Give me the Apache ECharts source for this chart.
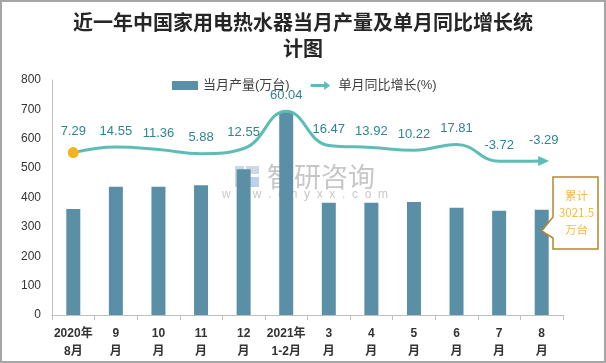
<!DOCTYPE html>
<html>
<head>
<meta charset="utf-8">
<script src="https://cdn.jsdelivr.net/npm/echarts@6/dist/echarts.min.js"></script>
<style>
html,body{margin:0;padding:0;background:#fff;}
#c{width:606px;height:363px;box-sizing:border-box;border:2px solid #a6a6a6;}
</style>
</head>
<body>
<div id="c"></div>
<script>
const categories = ['2020年\n8月','9\n月','10\n月','11\n月','12\n月','2021年\n1-2月','3\n月','4\n月','5\n月','6\n月','7\n月','8\n月'];
const output = [361, 437, 437, 442, 496, 692, 382, 382, 385, 365, 355, 358];
const yoy = [7.29, 14.55, 11.36, 5.88, 12.55, 60.04, 16.47, 13.92, 10.22, 17.81, -3.72, -3.29];
const yTicks = [0, 100, 200, 300, 400, 500, 600, 700, 800];
const cumulativeText = ['累计', '3021.5', '万台'];

const FONT = '"Liberation Sans","Noto Sans CJK SC",sans-serif';
const chart = echarts.init(document.getElementById('c'), null, {renderer:'canvas'});

const lineData = yoy.map((v, i) => {
  if (i === 0) return {value: v, symbol: 'circle', symbolSize: 11, itemStyle: {color: '#F5B31C'}};
  if (i === yoy.length - 1) return {value: v, symbol: 'triangle', symbolSize: [10, 11], symbolRotate: -90, symbolOffset: [2, 0], itemStyle: {color: '#5DBDB5'}};
  return {value: v, symbol: 'circle', symbolSize: 1, itemStyle: {opacity: 0}};
});

const option = {
  animation: false,
  title: {
    text: '近一年中国家用电热水器当月产量及单月同比增长统\n计图',
    left: 'center', top: 2,
    textStyle: {fontSize: 20, fontWeight: 'bold', color: '#262626', lineHeight: 26, fontFamily: '"Noto Sans CJK SC",sans-serif'}
  },
  legend: {
    top: 72, left: 165, itemGap: 21, itemWidth: 26, itemHeight: 9,
    textStyle: {fontSize: 13, color: '#404040', fontFamily: FONT},
    data: [
      {name: '当月产量(万台)', icon: 'rect', itemStyle: {color: '#5B8FA6'}},
      {name: '单月同比增长(%)', icon: 'path://M0,4 L18,4 L18,0 L26,6 L18,12 L18,8 L0,8 Z', itemStyle: {color: '#5DBDB5'}}
    ]
  },
  grid: {left: 50, right: 41, top: 78, bottom: 45},
  xAxis: {
    type: 'category', data: categories,
    axisLine: {lineStyle: {color: '#bfbfbf'}},
    axisTick: {show: true, length: 5, lineStyle: {color: '#bfbfbf'}},
    axisLabel: {interval: 0, fontSize: 12, fontWeight: 'bold', color: '#333', lineHeight: 18, margin: 10, fontFamily: FONT}
  },
  yAxis: [
    {
      type: 'value', min: 0, max: 800, interval: 100,
      axisLine: {show: true, lineStyle: {color: '#bfbfbf'}},
      axisTick: {show: false}, splitLine: {show: false},
      axisLabel: {fontSize: 12, color: '#333', margin: 11, fontFamily: FONT,
        formatter: v => yTicks.includes(v) ? String(v) : ''}
    },
    {type: 'value', min: -200, max: 100, show: false, splitLine: {show: false}}
  ],
  graphic: [],
  series: [
    {
      name: '当月产量(万台)', type: 'bar', data: output, barWidth: 14,
      itemStyle: {color: '#5B8FA6'}, z: 2
    },
    {
      name: '单月同比增长(%)', type: 'line', yAxisIndex: 1, data: lineData,
      smooth: 0.45, showSymbol: true,
      lineStyle: {color: '#5DBDB5', width: 3},
      itemStyle: {color: '#5DBDB5'},
      label: {show: true, position: 'top', distance: 9, fontSize: 13, color: '#2E8590', opacity: 1, fontFamily: FONT,
        formatter: p => String(p.value)},
      z: 5
    }
  ]
};
chart.setOption(option);

// watermark and callout
const last = output.length - 1;
const p = chart.convertToPixel({xAxisIndex: 0, yAxisIndex: 0}, [last, output[last]]);
const tipX = p[0], tipY = 229;
const bx0 = 551, bx1 = 596, by0 = 175, by1 = 247;
chart.setOption({
  graphic: [
    {type: 'rect', shape: {x: 233, y: 164, width: 9, height: 21}, style: {fill: '#b8c7dc', opacity: 0.7}, z: 1},
    {type: 'rect', shape: {x: 244, y: 164, width: 13, height: 8}, style: {fill: '#b8c7dc', opacity: 0.7}, z: 1},
    {type: 'rect', shape: {x: 244, y: 175, width: 13, height: 10}, style: {fill: '#8fb3d9', opacity: 0.6}, z: 1},
    {type: 'text', x: 319, y: 175, style: {text: '智研咨询', fill: '#bdbdbd', font: '27px "Noto Sans CJK SC"', align: 'center', verticalAlign: 'middle', opacity: 0.85}, z: 1},
    {type: 'text', x: 303, y: 193, style: {text: 'w  w  w  .  c  h  y  x  x  .  c  o  m', fill: '#bdbdbd', font: '12px "Liberation Sans"', align: 'center', verticalAlign: 'middle', opacity: 0.85}, z: 1},
    {type: 'polygon', shape: {points: [[bx0, by0], [bx1, by0], [bx1, by1], [bx0, by1], [bx0, 236], [tipX, tipY], [bx0, 215]]},
      style: {fill: '#fff', stroke: '#B8862B', lineWidth: 1.5}, z: 10},
    {type: 'text', x: (bx0 + bx1) / 2 + 1, y: (by0 + by1) / 2, style: {text: cumulativeText.join('\n'), fill: '#F5B942', font: '11.5px "Noto Sans CJK SC"', lineHeight: 17, align: 'center', verticalAlign: 'middle'}, z: 11}
  ]
});
</script>
</body>
</html>
